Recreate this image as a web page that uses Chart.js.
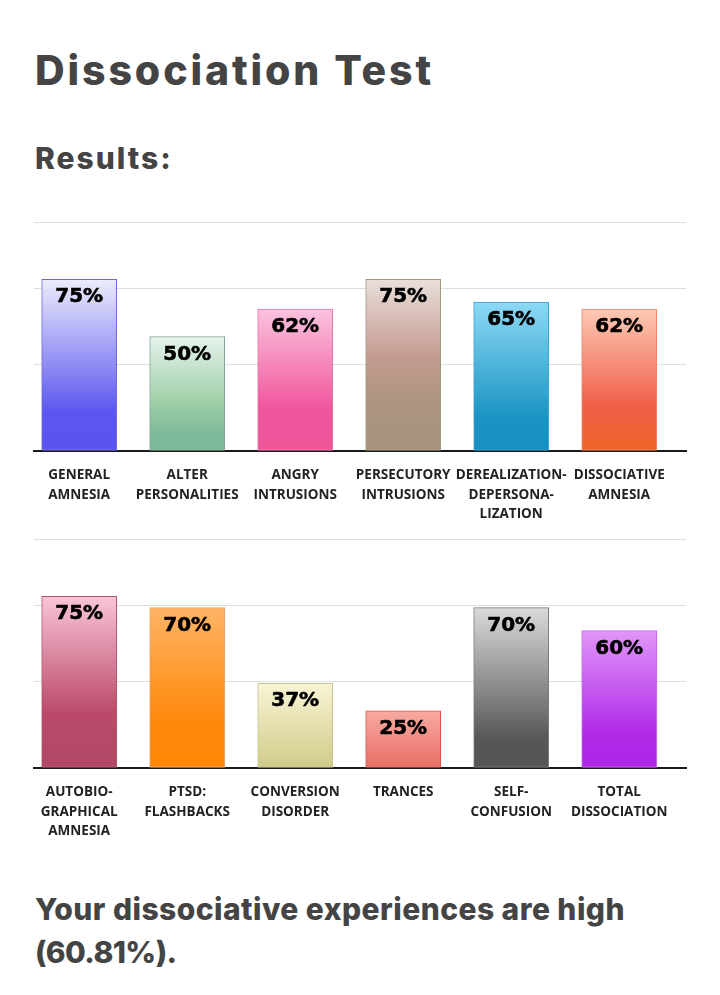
<!DOCTYPE html>
<html>
<head>
<meta charset="utf-8">
<script src="https://cdn.jsdelivr.net/npm/chart.js@4"></script>
<style>
  html, body { margin: 0; padding: 0; background: #fff; }
  body { width: 720px; height: 995px; position: relative; overflow: hidden; font-family: Inter, sans-serif; color: #444; }
  h1, h2, p { margin: 0; position: absolute; left: 35px; font-weight: 800; white-space: nowrap; }
  h1 { top: 50px; font-size: 41px; line-height: 41px; letter-spacing: 2.9px; }
  h2 { top: 143px; font-size: 30px; line-height: 30px; letter-spacing: 2px; }
  p.verdict { top: 888px; font-size: 30px; line-height: 43px; white-space: normal; width: 660px; letter-spacing: 0.45px; }
  p.verdict span { letter-spacing: -0.6px; }
  .chart-box { position: absolute; left: 0; width: 720px; height: 320px; }
  #box-1 { top: 210px; }
  #box-2 { top: 527px; }
</style>
</head>
<body>
<h1>Dissociation Test</h1>
<h2>Results:</h2>
<div class="chart-box" id="box-1"><canvas id="chart-1"></canvas></div>
<div class="chart-box" id="box-2"><canvas id="chart-2"></canvas></div>
<p class="verdict">Your dissociative experiences are high<br><span>(60.81%).</span></p>

<script>
  // Werte (Prozent).
  const categoriesTop = [
    ['GENERAL', 'AMNESIA'],
    ['ALTER', 'PERSONALITIES'],
    ['ANGRY', 'INTRUSIONS'],
    ['PERSECUTORY', 'INTRUSIONS'],
    ['DEREALIZATION-', 'DEPERSONA-', 'LIZATION'],
    ['DISSOCIATIVE', 'AMNESIA'],
  ];
  const valuesTop = [75, 50, 62, 75, 65, 62];

  const categoriesBottom = [
    ['AUTOBIO-', 'GRAPHICAL', 'AMNESIA'],
    ['PTSD:', 'FLASHBACKS'],
    ['CONVERSION', 'DISORDER'],
    ['TRANCES'],
    ['SELF-', 'CONFUSION'],
    ['TOTAL', 'DISSOCIATION'],
  ];
  const valuesBottom = [75, 70, 37, 25, 70, 60];

  // Hilfslinien liegen im Original nicht auf runden Werten.
  const gridValues = [0, 37.8, 70.9, 100];

  // Verlauf je Balken: [Position, Farbe] von oben nach unten, plus Rahmenfarbe.
  const stylesTop = [
    { border: '#6b67d9', stops: [[0, '#ececfb'], [0.78, '#5b56ef'], [1, '#5a55ee']] },
    { border: '#7da894', stops: [[0, '#e6f3ec'], [0.6, '#9ccda4'], [0.85, '#7db99a'], [1, '#7bb79a']] },
    { border: '#e277ab', stops: [[0, '#fcc3de'], [0.7, '#f0569d'], [1, '#ef5598']] },
    { border: '#a39482', stops: [[0, '#e9dfda'], [0.45, '#c49b91'], [0.68, '#ae957f'], [1, '#a6927e']] },
    { border: '#36a4d2', stops: [[0, '#8cd9f5'], [0.78, '#1a93c3'], [1, '#188fc0']] },
    { border: '#ef8364', stops: [[0, '#fdcab4'], [0.68, '#ef5f4a'], [1, '#ec6526']] },
  ];
  const stylesBottom = [
    { border: '#b35272', stops: [[0, '#f9c5d7'], [0.68, '#bb4a69'], [1, '#b04866']] },
    { border: '#f3a45a', stops: [[0, '#ffb465'], [0.72, '#ff880a'], [1, '#ff8807']] },
    { border: '#c9c190', stops: [[0, '#f9f5d6'], [1, '#d0cb88']] },
    { border: '#d9534b', stops: [[0, '#f9aaa2'], [1, '#e86f67']] },
    { border: '#7b7b7b', stops: [[0, '#dadada'], [0.82, '#575757'], [1, '#555555']] },
    { border: '#c767f1', stops: [[0, '#e196f9'], [0.75, '#b02ae8'], [1, '#ad28e6']] },
  ];

  Chart.defaults.animation = false;

  function barGradient(styles) {
    return (ctx) => {
      const chart = ctx.chart;
      const area = chart.chartArea;
      const style = styles[ctx.dataIndex];
      if (!area || ctx.parsed === undefined) return style.stops[style.stops.length - 1][1];
      const y = chart.scales.y;
      const top = y.getPixelForValue(ctx.parsed.y);
      const bottom = y.getPixelForValue(0);
      const g = chart.ctx.createLinearGradient(0, top, 0, bottom);
      style.stops.forEach(([pos, color]) => g.addColorStop(pos, color));
      return g;
    };
  }

  // Prozentwert oben im Balken (leicht nachgezogen, im Original kräftiger).
  const valueLabels = {
    id: 'valueLabels',
    afterDatasetsDraw(chart) {
      const c = chart.ctx;
      const meta = chart.getDatasetMeta(0);
      c.save();
      c.font = 'bold 20px "DejaVu Sans"';
      c.fillStyle = '#000';
      c.strokeStyle = '#000';
      c.lineWidth = 0.6;
      c.textAlign = 'center';
      c.textBaseline = 'alphabetic';
      meta.data.forEach((bar, i) => {
        const text = chart.data.datasets[0].data[i].y + '%';
        c.fillText(text, bar.x, bar.y + 23);
        c.strokeText(text, bar.x, bar.y + 23);
      });
      c.restore();
    },
  };

  function makeChart(id, categories, values, styles) {
    new Chart(document.getElementById(id), {
      type: 'bar',
      data: {
        datasets: [{
          data: values.map((v, i) => ({ x: i, y: v })),
          backgroundColor: barGradient(styles),
          borderColor: styles.map((s) => s.border),
          borderWidth: 1,
          borderSkipped: false,
          barThickness: 75,
        }],
      },
      options: {
        responsive: true,
        maintainAspectRatio: false,
        layout: { padding: { left: 34, right: 34, top: 12, bottom: 0 } },
        plugins: { legend: { display: false }, tooltip: { enabled: false } },
        scales: {
          x: {
            type: 'linear',
            offset: false,
            // Kategorien sitzen im Original etwas links von der Mitte der Linien.
            min: -0.4185,
            max: 5.6185,
            grid: { display: false, drawTicks: false, offset: false },
            border: { display: true, color: '#1a1a1a', width: 2 },
            afterFit: (scale) => { scale.height = 79; },
            ticks: {
              stepSize: 1,
              includeBounds: false,
              autoSkip: false,
              maxRotation: 0,
              padding: 15,
              color: '#222',
              font: { family: '"Open Sans"', weight: 'bold', size: 13.5, lineHeight: 1.43 },
              callback: (value) => categories[value],
            },
          },
          y: {
            min: 0,
            max: 100,
            afterBuildTicks: (scale) => { scale.ticks = gridValues.map((v) => ({ value: v })); },
            afterFit: (scale) => { scale.width = 0; },
            grid: { color: '#dedede', lineWidth: 1, drawTicks: false },
            border: { display: false },
            ticks: { display: false },
          },
        },
      },
      plugins: [valueLabels],
    });
  }

  makeChart('chart-1', categoriesTop, valuesTop, stylesTop);
  makeChart('chart-2', categoriesBottom, valuesBottom, stylesBottom);
</script>
</body>
</html>
